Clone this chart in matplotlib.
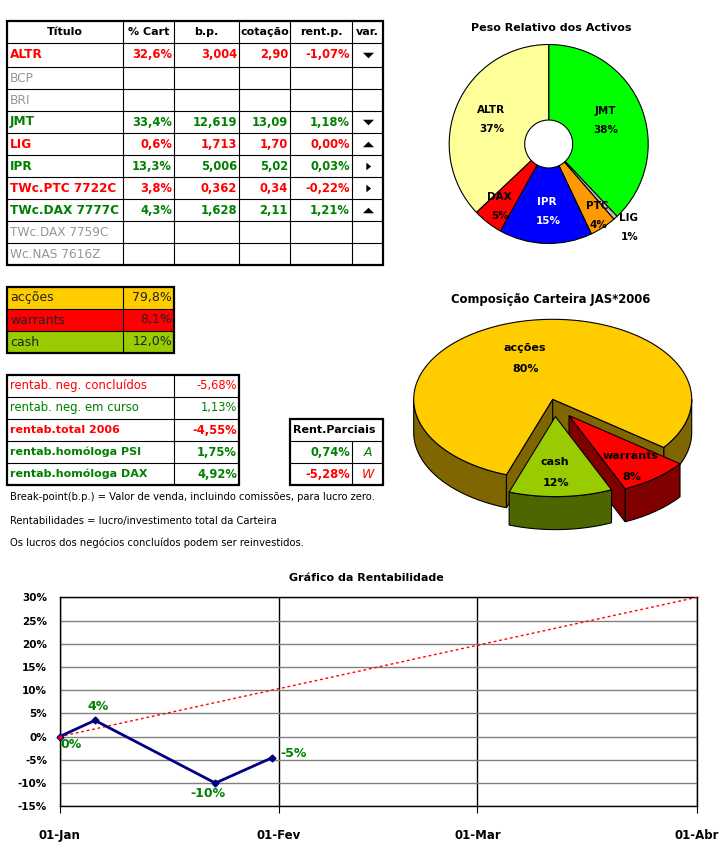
import numpy as np
import pandas as pd
from matplotlib import pyplot as plt
from matplotlib.patches import Polygon, Rectangle

W, H = 726, 851
RED = '#FF0000'
GREEN = '#008000'
GRAY = '#969696'

# tabela principal
titulos = ['ALTR', 'BCP', 'BRI', 'JMT', 'LIG', 'IPR', 'TWc.PTC 7722C', 'TWc.DAX 7777C', 'TWc.DAX 7759C', 'Wc.NAS 7616Z']
cart = [32.6, None, None, 33.4, 0.6, 13.3, 3.8, 4.3, None, None]
bp = ['3,004', '', '', '12,619', '1,713', '5,006', '0,362', '1,628', '', '']
cotacao = ['2,90', '', '', '13,09', '1,70', '5,02', '0,34', '2,11', '', '']
rent_p = ['-1,07%', '', '', '1,18%', '0,00%', '0,03%', '-0,22%', '1,21%', '', '']
var = ['v', '', '', 'v', '^', '>', '>', '^', '', '']
cores = [RED, GRAY, GRAY, GREEN, RED, GREEN, RED, GREEN, GRAY, GRAY]
cabecalho = ['Título', '% Cart', 'b.p.', 'cotação', 'rent.p.', 'var.']

# composicao
comp_nomes = ['acções', 'warrants', 'cash']
comp_vals = [79.8, 8.1, 12.0]
comp_cores = ['#FFCC00', '#FF0000', '#99CC00']
comp_lados = ['#806600', '#800000', '#4D6600']

# rentabilidades
rent_nomes = ['rentab. neg. concluídos', 'rentab. neg. em curso', 'rentab.total 2006', 'rentab.homóloga PSI', 'rentab.homóloga DAX']
rent_vals = ['-5,68%', '1,13%', '-4,55%', '1,75%', '4,92%']
rent_cores = [RED, GREEN, RED, GREEN, GREEN]
parc_vals = ['0,74%', '-5,28%']
parc_tipo = ['A', 'W']
parc_cores = [GREEN, RED]
notas = ['Break-point(b.p.) = Valor de venda, incluindo comissões, para lucro zero.',
         'Rentabilidades = lucro/investimento total da Carteira',
         'Os lucros dos negócios concluídos podem ser reinvestidos.']

# donut
pie_nomes = ['JMT', 'LIG', 'PTC', 'IPR', 'DAX', 'ALTR']
pie_vals = [33.4, 0.6, 3.8, 13.3, 4.3, 32.6]
pie_cores = ['#00FF00', '#C0C0C0', '#FF9900', '#0000FF', '#FF0000', '#FFFF99']

# grafico
datas = pd.to_datetime(['2006-01-01', '2006-01-06', '2006-01-23', '2006-01-31'])
rentab = [0, 3.5, -10, -4.55]
rentab_txt = ['0%', '4%', '-10%', '-5%']
meta_datas = pd.to_datetime(['2006-01-01', '2006-04-01'])
meta = [0, 30]
meses = pd.to_datetime(['2006-01-01', '2006-02-01', '2006-03-01', '2006-04-01'])
meses_txt = ['01-Jan', '01-Fev', '01-Mar', '01-Abr']
y_ticks = list(range(-15, 35, 5))

# triangulos achatados da coluna var.
setas = {'v': [(-1, 0.5), (1, 0.5), (0, -0.5)],
         '^': [(-1, -0.5), (1, -0.5), (0, 0.5)],
         '>': [(-0.45, -0.8), (-0.45, 0.8), (0.55, 0)]}
setas_ms = {'v': 8, '^': 8, '>': 5.5}


def px_axes(fig, x0, y0, x1, y1):
    return fig.add_axes([x0 / W, 1 - y1 / H, (x1 - x0) / W, (y1 - y0) / H])


def grelha(ax, xs, ys):
    for x in xs[1:-1]:
        ax.plot([x, x], [ys[0], ys[-1]], color='k', lw=0.8)
    for y in ys[1:-1]:
        ax.plot([xs[0], xs[-1]], [y, y], color='k', lw=0.8)
    ax.add_patch(Rectangle((xs[0], ys[0]), xs[-1] - xs[0], ys[-1] - ys[0], fill=False, ec='k', lw=1.6, zorder=4))


fig = plt.figure(figsize=(W / 100, H / 100), dpi=100)
bg = fig.add_axes([0, 0, 1, 1])
bg.set_xlim(0, W)
bg.set_ylim(H, 0)
bg.axis('off')

# tabela 1
xs = [7, 123, 174, 239, 290, 352, 383]
ys = [21, 43, 67, 89, 111, 133, 155, 177, 199, 221, 243, 265]
grelha(bg, xs, ys)
for i, t in enumerate(cabecalho):
    bg.text((xs[i] + xs[i + 1]) / 2, 32, t, ha='center', va='center', fontsize=8, fontweight='bold')
for i, t in enumerate(titulos):
    yc = (ys[i + 1] + ys[i + 2]) / 2
    b = 'bold' if cores[i] != GRAY else 'normal'
    bg.text(10, yc, t, color=cores[i], ha='left', va='center', fontsize=8.7, fontweight=b)
    if cart[i] is None:
        continue
    linha = [('%.1f%%' % cart[i]).replace('.', ','), bp[i], cotacao[i], rent_p[i]]
    for j, v in enumerate(linha):
        bg.text(xs[j + 2] - 2, yc, v, color=cores[i], ha='right', va='center', fontsize=8.3, fontweight='bold')
    bg.plot((xs[5] + xs[6]) / 2, yc, marker=setas[var[i]], color='k', ms=setas_ms[var[i]], mew=0)

# tabela 2
xs = [7, 123, 174]
ys = [287, 309, 331, 353]
for i in range(3):
    bg.add_patch(Rectangle((xs[0], ys[i]), xs[2] - xs[0], ys[i + 1] - ys[i], fc=comp_cores[i], ec='none'))
    yc = (ys[i] + ys[i + 1]) / 2
    bg.text(10, yc, comp_nomes[i], ha='left', va='center', fontsize=9, color='#222222')
    bg.text(xs[2] - 2, yc, ('%.1f%%' % comp_vals[i]).replace('.', ','), ha='right', va='center', fontsize=9, color='#222222')
grelha(bg, xs, ys)

# tabela 3
xs = [7, 174, 239]
ys = [375, 397, 419, 441, 463, 485]
grelha(bg, xs, ys)
for i, t in enumerate(rent_nomes):
    yc = (ys[i] + ys[i + 1]) / 2
    b = 'bold' if i > 1 else 'normal'
    f = 8 if i > 1 else 8.4
    bg.text(10, yc, t, color=rent_cores[i], ha='left', va='center', fontsize=f, fontweight=b)
    bg.text(xs[2] - 2, yc, rent_vals[i], color=rent_cores[i], ha='right', va='center', fontsize=8.3, fontweight=b)

# tabela 4
xs = [290, 352, 383]
ys = [419, 441, 463, 485]
bg.plot([xs[1], xs[1]], [ys[1], ys[3]], color='k', lw=0.8)
bg.plot([xs[0], xs[2]], [ys[1], ys[1]], color='k', lw=0.8)
bg.plot([xs[0], xs[2]], [ys[2], ys[2]], color='k', lw=0.8)
bg.add_patch(Rectangle((xs[0], ys[0]), xs[2] - xs[0], ys[3] - ys[0], fill=False, ec='k', lw=1.6, zorder=4))
bg.text(293, 430, 'Rent.Parciais', ha='left', va='center', fontsize=8, fontweight='bold')
for i in range(2):
    yc = (ys[i + 1] + ys[i + 2]) / 2
    bg.text(xs[1] - 2, yc, parc_vals[i], color=parc_cores[i], ha='right', va='center', fontsize=8.3, fontweight='bold')
    bg.text((xs[1] + xs[2]) / 2, yc, parc_tipo[i], color=parc_cores[i], ha='center', va='center', fontsize=9, style='italic')

for y, t in zip([497, 521, 543], notas):
    bg.text(10, y, t, ha='left', va='center', fontsize=7.2)

# donut
bg.text(551, 28, 'Peso Relativo dos Activos', ha='center', va='center', fontsize=8, fontweight='bold')
cx, cy, r = 548.7, 144, 99.5
ax1 = px_axes(fig, cx - 105, cy - 105, cx + 105, cy + 105)
ax1.pie(pie_vals, colors=pie_cores, startangle=90, counterclock=False, radius=1,
        wedgeprops={'width': 1 - 24 / r, 'edgecolor': 'k', 'linewidth': 0.8})
ax1.set_xlim(-105 / r, 105 / r)
ax1.set_ylim(-105 / r, 105 / r)
pie_pos = [(605, 111), (629, 218), (597, 206), (547, 202), (499, 197), (491, 110)]
total = sum(pie_vals)
ax_txt = fig.add_axes([0, 0, 1, 1], zorder=5)
ax_txt.set_xlim(0, W)
ax_txt.set_ylim(H, 0)
ax_txt.axis('off')
for i, n in enumerate(pie_nomes):
    c = 'white' if n == 'IPR' else 'k'
    ax_txt.text(pie_pos[i][0], pie_pos[i][1], n, color=c, ha='center', va='center', fontsize=7.5, fontweight='bold')
    ax_txt.text(pie_pos[i][0] + 1, pie_pos[i][1] + 19, '%.0f%%' % (pie_vals[i] / total * 100), color=c, ha='center', va='center', fontsize=7.5, fontweight='bold')

# pie 3d
bg.text(551, 300, 'Composição Carteira JAS*2006', ha='center', va='center', fontsize=8.4, fontweight='bold')
cx, cy, rx, ry, prof = 552.7, 399.3, 139, 80, 33
fr = np.array(comp_vals) / sum(comp_vals) * 360
t_ini = 37
limites = [(t_ini + fr[1] + fr[2], t_ini + 360), (t_ini, t_ini + fr[1]), (t_ini + fr[1], t_ini + fr[1] + fr[2])]
offsets = [(0, 0), (16.3, 16.3), (2.7, 17.3)]


def arco(a, b, ox, oy):
    t = np.radians(np.linspace(a, b, 120))
    return np.column_stack([cx + ox + rx * np.cos(t), cy + oy + ry * np.sin(t)])


def fatia(i):
    a, b = limites[i]
    ox, oy = offsets[i]
    sty = {'ec': 'k', 'lw': 0.8}
    # paredes exteriores, so a parte da frente
    for k in range(-1, 2):
        a2, b2 = max(a, 360 * k), min(b, 360 * k + 180)
        if a2 < b2:
            p = arco(a2, b2, ox, oy)
            bg.add_patch(Polygon(np.vstack([p, (p + [0, prof])[::-1]]), fc=comp_lados[i], **sty))
    # paredes dos cortes
    centro = np.array([cx + ox, cy + oy])
    for ang, normal in [(a, a - 90), (b, b + 90)]:
        if np.sin(np.radians(normal)) > 0:
            q = arco(ang, ang, ox, oy)[0]
            bg.add_patch(Polygon([centro, q, q + [0, prof], centro + [0, prof]], fc=comp_lados[i], **sty))
    bg.add_patch(Polygon(np.vstack([centro, arco(a, b, ox, oy)]), fc=comp_cores[i], **sty))


for i in range(3):
    fatia(i)
comp_pos = [(525, 348), (631, 456), (555, 462)]
for i, n in enumerate(comp_nomes):
    ax_txt.text(comp_pos[i][0], comp_pos[i][1], n, ha='center', va='center', fontsize=8, fontweight='bold')
    ax_txt.text(comp_pos[i][0] + 1, comp_pos[i][1] + 21, '%.0f%%' % comp_vals[i], ha='center', va='center', fontsize=8, fontweight='bold')

# grafico da rentabilidade
bg.text(366, 578, 'Gráfico da Rentabilidade', ha='center', va='center', fontsize=8, fontweight='bold')
ax = px_axes(fig, 59.5, 597.3, 697, 806.3)
ax.set_xlim(meses[0], meses[-1])
ax.set_ylim(-15, 30)
ax.set_yticks(y_ticks)
ax.set_yticklabels(['%d%%' % v for v in y_ticks], fontsize=7.5, fontweight='bold')
ax.set_xticks(meses)
ax.set_xticklabels(meses_txt, fontsize=8.5, fontweight='bold')
ax.tick_params(axis='x', length=5, width=0.8, pad=11)
ax.tick_params(axis='y', length=0, pad=9)
ax.grid(axis='y', color='#808080', lw=1)
ax.grid(axis='x', color='k', lw=1)
ax.set_axisbelow(True)
for s in ax.spines.values():
    s.set_linewidth(1)
ax.plot(meta_datas, meta, color=RED, lw=1, ls=(0, (2, 2)), zorder=3)
ax.plot(datas, rentab, color='#000080', lw=2, marker='D', ms=3.5, zorder=4, clip_on=False)
ax.plot(meta_datas[:1], meta[:1], color=RED, marker='o', ms=2, zorder=5, clip_on=False)
desloc = [(11, -8), (3, 14), (-7, -10), (22, 4)]
for d, v, t, o in zip(datas, rentab, rentab_txt, desloc):
    ax.annotate(t, (d, v), xytext=o, textcoords='offset pixels', color=GREEN, ha='center', va='center', fontsize=9, fontweight='bold', zorder=6)

plt.savefig('out.png', dpi=100)
